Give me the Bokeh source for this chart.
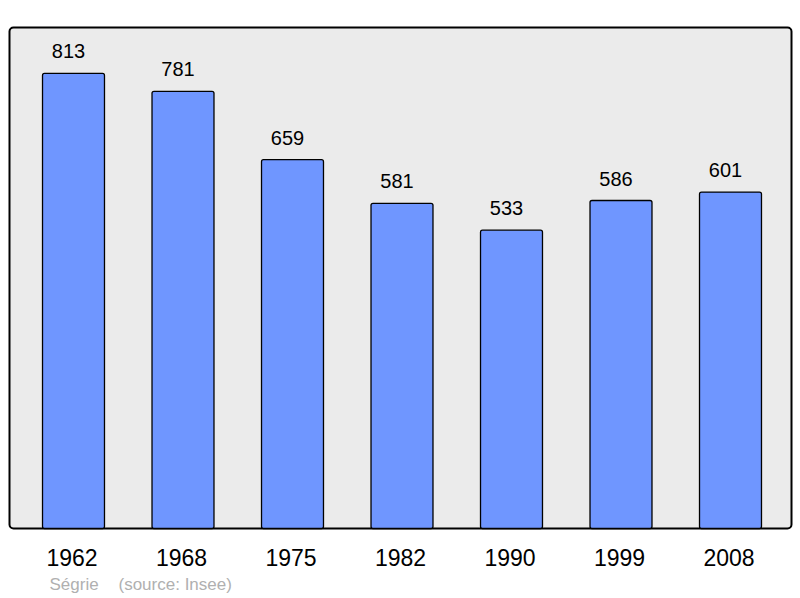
from bokeh.plotting import figure
from bokeh.models import Range1d, Label, ColumnDataSource, BoxAnnotation
from bokeh.core.properties import value
from bokeh.embed import file_html
from bokeh.resources import INLINE

years = ["1962", "1968", "1975", "1982", "1990", "1999", "2008"]
population = [813, 781, 659, 581, 533, 586, 601]
place = "Ségrie"
source_text = "(source: Insee)"

xs = list(range(len(years)))
src = ColumnDataSource(dict(x=xs, top=population, lab=[str(v) for v in population],
                            year=years, base=[0] * len(years)))

# px per category = 109.5, x=0 at px 73 ; px per unit = 0.5597, y=0 at px 528
W, H = 798, 596
p = figure(width=W, height=H, output_backend="svg", toolbar_location=None,
           x_range=Range1d(-73 / 109.5, (W - 73) / 109.5),
           y_range=Range1d(-(H - 528) / 0.5597, 528 / 0.5597),
           min_border_left=0, min_border_right=0, min_border_top=0, min_border_bottom=0)
p.background_fill_color = "white"
p.border_fill_color = "white"
p.outline_line_color = None
p.grid.visible = False
p.axis.visible = False

box = BoxAnnotation(left=(9 - 73) / 109.5, right=(791 - 73) / 109.5, bottom=0, top=(528 - 27) / 0.5597,
                    fill_color="#ebebeb", fill_alpha=1, line_color="black", line_width=2,
                    line_alpha=1, border_radius=4, level="underlay")
p.add_layout(box)

p.vbar(x="x", top="top", width=0.566, bottom=0, source=src,
       fill_color="#6f96ff", line_color="black", line_width=1.3, border_radius=2)
p.text(x="x", y="top", text="lab", source=src, text_align="center", text_baseline="alphabetic",
       x_offset=-5, y_offset=-22, text_font=value("Liberation Sans"), text_font_size="20px",
       text_color="black")
p.text(x="x", y="base", text="year", source=src, text_align="center", text_baseline="middle",
       x_offset=-1.5, y_offset=29, text_font=value("Liberation Sans"), text_font_size="23px",
       text_color="black")

p.add_layout(Label(x=49, y=12, x_units="screen", y_units="screen", text=place, text_baseline="middle",
                   text_font="Liberation Sans", text_font_size="17px", text_color="#b0b0b0"))
p.add_layout(Label(x=118, y=12, x_units="screen", y_units="screen", text=source_text, text_baseline="middle",
                   text_font="Liberation Sans", text_font_size="17px", text_color="#b0b0b0"))

open("out.html", "w").write(file_html(p, INLINE))
